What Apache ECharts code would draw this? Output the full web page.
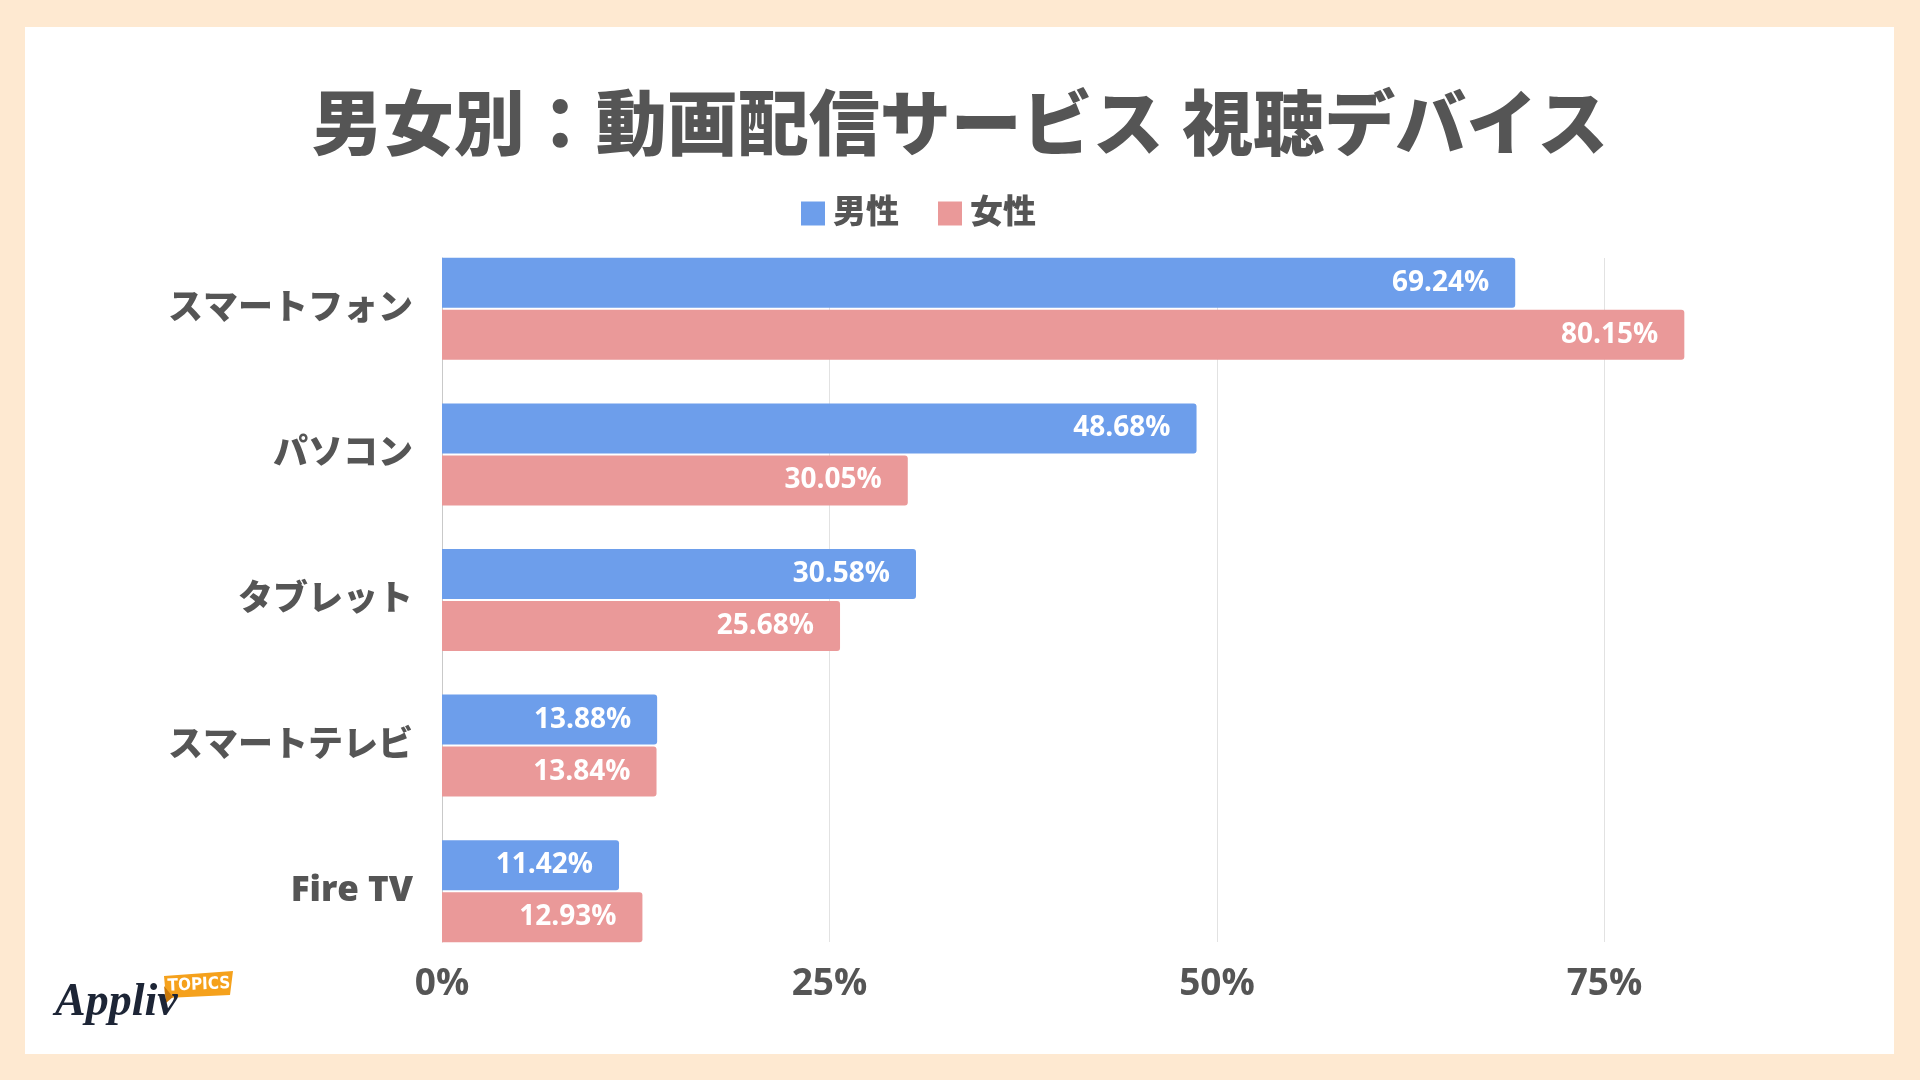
<!DOCTYPE html>
<html>
<head>
<meta charset="utf-8">
<script src="https://cdn.jsdelivr.net/npm/echarts@6/dist/echarts.min.js"></script>
<style>
html,body{margin:0;padding:0;background:#FEE9D1;width:1920px;height:1080px;overflow:hidden;}
#panel{position:absolute;left:25px;top:27px;width:1869px;height:1027px;background:#ffffff;}
#chart{position:absolute;left:0;top:0;width:1920px;height:1080px;}
</style>
</head>
<body>
<div id="panel"></div>
<div id="chart"></div>
<script>
const titleText = '男女別：動画配信サービス 視聴デバイス';
const categories = ['スマートフォン', 'パソコン', 'タブレット', 'スマートテレビ', 'Fire TV'];
const seriesNames = ['男性', '女性'];
const maleValues = [69.24, 48.68, 30.58, 13.88, 11.42];
const femaleValues = [80.15, 30.05, 25.68, 13.84, 12.93];
const xTickValues = [0, 25, 50, 75];

const FONT = '"Open Sans", "Noto Sans CJK JP", sans-serif';
const TEXT = '#555555';
const chart = echarts.init(document.getElementById('chart'), null, {renderer: 'canvas'});

const barLabel = {
  show: true,
  position: 'insideRight',
  distance: 26,
  color: '#ffffff',
  fontFamily: FONT,
  fontWeight: 'bold',
  fontSize: 28,
  formatter: p => p.value.toFixed(2) + '%'
};

chart.setOption({
  backgroundColor: 'transparent',
  animation: false,
  title: {
    text: titleText,
    left: 'center',
    top: 88,
    textStyle: {fontFamily: FONT, fontWeight: 900, fontSize: 71, color: TEXT}
  },
  legend: {
    data: seriesNames,
    left: 801,
    top: 197,
    padding: 0,
    icon: 'rect',
    itemWidth: 24,
    itemHeight: 24,
    itemGap: 39,
    textStyle: {fontFamily: FONT, fontWeight: 900, fontSize: 33, color: TEXT, padding: [0, 0, 0, 3]}
  },
  grid: [
    {left: 442, top: 236, width: 1395, height: 728},
    {left: 442, top: 258, width: 1395, height: 684}
  ],
  xAxis: [
    {type: 'value', gridIndex: 0, min: 0, max: 90, show: false},
    {
      type: 'value', gridIndex: 1, min: 0, max: 90, interval: 25,
      axisLine: {show: false}, axisTick: {show: false},
      splitLine: {show: true, showMinLine: false, showMaxLine: false, lineStyle: {color: '#e2e2e2', width: 1}},
      axisLabel: {
        margin: 24, showMaxLabel: false,
        fontFamily: FONT, fontWeight: 'bold', fontSize: 37, color: TEXT,
        formatter: v => xTickValues.indexOf(v) >= 0 ? v + '%' : ''
      }
    }
  ],
  yAxis: [
    {
      type: 'category', gridIndex: 0, data: categories, inverse: true,
      axisLine: {show: false}, axisTick: {show: false}, splitLine: {show: false},
      axisLabel: {margin: 29, fontFamily: FONT, fontWeight: 900, fontSize: 35, color: TEXT}
    },
    {
      type: 'category', gridIndex: 1, data: categories, inverse: true,
      axisLine: {show: true, lineStyle: {color: '#c9c9c9', width: 1}},
      axisTick: {show: false}, axisLabel: {show: false}, splitLine: {show: false}
    }
  ],
  series: [
    {
      name: seriesNames[0], type: 'bar', xAxisIndex: 0, yAxisIndex: 0,
      data: maleValues, barWidth: 50, barGap: '4%', z: 3,
      itemStyle: {color: '#6D9EEB', borderRadius: [0, 3, 3, 0]},
      label: barLabel
    },
    {
      name: seriesNames[1], type: 'bar', xAxisIndex: 0, yAxisIndex: 0,
      data: femaleValues, barWidth: 50, barGap: '4%', z: 3,
      itemStyle: {color: '#EA9999', borderRadius: [0, 3, 3, 0]},
      label: barLabel
    }
  ],
  graphic: [
    {
      type: 'polygon', z: 10,
      shape: {points: [[164, 976], [233, 971], [230, 995], [166, 998]]},
      style: {fill: '#F5A11C'}
    },
    {
      type: 'polygon', z: 11,
      shape: {points: [[164, 986], [173, 997], [166, 1003]]},
      style: {fill: '#C9780A'}
    },
    {
      type: 'text', z: 12, x: 199, y: 985, rotation: 0.04,
      style: {text: 'TOPICS', fill: '#ffffff', font: 'bold 17px "Liberation Sans Narrow", "DejaVu Sans Condensed", sans-serif', textAlign: 'center', textVerticalAlign: 'middle'}
    },
    {
      type: 'text', z: 12, x: 55, y: 1026,
      style: {text: 'Appliv', fill: '#1d2536', font: 'italic bold 46px "Liberation Serif", "DejaVu Serif", serif', textAlign: 'left', textVerticalAlign: 'bottom'}
    }
  ]
});
</script>
</body>
</html>
